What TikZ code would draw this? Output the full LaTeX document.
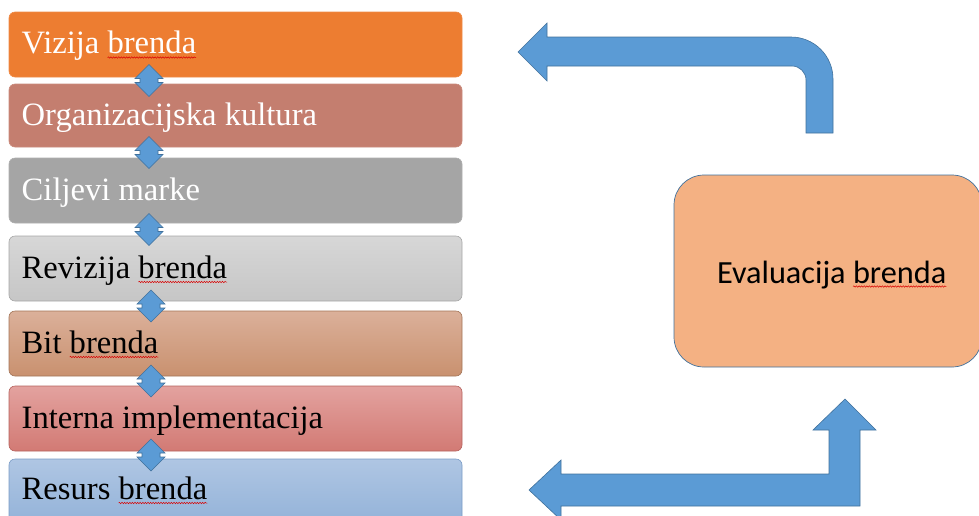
\documentclass[tikz,border=0pt]{standalone}
\usepackage{fontspec}
\setmainfont{Liberation Serif}
\newfontfamily\calfont{Carlito}
\usetikzlibrary{calc,decorations.pathmorphing}
\definecolor{cOne}{HTML}{ED7D31}
\definecolor{cTwo}{HTML}{C47E6F}
\definecolor{cThree}{HTML}{A5A5A5}
\definecolor{cFourT}{HTML}{D7D7D7}
\definecolor{cFourB}{HTML}{C6C6C6}
\definecolor{cFourL}{HTML}{A6A6A6}
\definecolor{cFiveT}{HTML}{DBB09A}
\definecolor{cFiveB}{HTML}{C9916F}
\definecolor{cFiveL}{HTML}{A37558}
\definecolor{cSixT}{HTML}{E3A29F}
\definecolor{cSixB}{HTML}{D27A74}
\definecolor{cSixL}{HTML}{B5625D}
\definecolor{cSevT}{HTML}{AFC6E3}
\definecolor{cSevB}{HTML}{94B3D9}
\definecolor{cSevL}{HTML}{7A9CC6}
\definecolor{arrFill}{HTML}{5B9BD5}
\definecolor{arrLine}{HTML}{41719C}
\definecolor{evFill}{HTML}{F4B183}
\begin{document}
\begin{tikzpicture}[x=1pt,y=-1pt,
  box/.style={rectangle, rounded corners=6pt, minimum width=453pt, inner sep=0pt, line width=0.6pt},
  lbl/.style={inner sep=0pt, outer sep=0pt, font=\fontsize{32.6}{36}\selectfont},
  evlbl/.style={inner sep=0pt, outer sep=0pt, font=\calfont\fontsize{32.3}{36}\selectfont},
  squig/.style={draw=red!85!black, line width=0.5pt, decorate, decoration={snake, amplitude=0.7pt, segment length=2.6pt}},
  blk/.style={fill=arrFill, draw=arrLine, line width=0.6pt, line join=miter}]
\useasboundingbox (0,0) rectangle (979,515);
\clip (0,0) rectangle (979,515);
% left boxes
\node[box, fill=cOne, draw=cOne!90!white, minimum height=65pt] (b1) at (235.5,44.5) {};
\node[box, fill=cTwo, draw=cTwo!90!white, minimum height=63pt] (b2) at (235.5,115.5) {};
\node[box, fill=cThree, draw=cThree!90!white, minimum height=65pt] (b3) at (235.5,190.5) {};
\node[box, top color=cFourT, bottom color=cFourB, draw=cFourL, minimum height=65pt] (b4) at (235.5,268.5) {};
\node[box, top color=cFiveT, bottom color=cFiveB, draw=cFiveL, minimum height=65pt] (b5) at (235.5,343.5) {};
\node[box, top color=cSixT, bottom color=cSixB, draw=cSixL, minimum height=65pt] (b6) at (235.5,418.5) {};
\node[box, top color=cSevT, bottom color=cSevB, draw=cSevL, minimum height=63pt] (b7) at (235.5,490.5) {};
% labels
\node[lbl, text=white, anchor=base west] (t1a) at ($(b1.west)+(13,9)$) {Vizija\kern.25em};
\node[lbl, text=white, anchor=base west] (t1b) at (t1a.base east) {brenda};
\node[lbl, text=white, anchor=base west] (t2) at ($(b2.west)+(13,9.5)$) {Organizacijska kultura};
\node[lbl, text=white, anchor=base west] (t3) at ($(b3.west)+(13,9.5)$) {Ciljevi marke};
\node[lbl, anchor=base west] (t4a) at ($(b4.west)+(13,9.5)$) {Revizija\kern.25em};
\node[lbl, anchor=base west] (t4b) at (t4a.base east) {brenda};
\node[lbl, anchor=base west] (t5a) at ($(b5.west)+(13,9.5)$) {Bit\kern.25em};
\node[lbl, anchor=base west] (t5b) at (t5a.base east) {brenda};
\node[lbl, anchor=base west] (t6) at ($(b6.west)+(13,9.5)$) {Interna implementacija};
\node[lbl, anchor=base west] (t7a) at ($(b7.west)+(13,8.5)$) {Resurs\kern.25em};
\node[lbl, anchor=base west] (t7b) at (t7a.base east) {brenda};
\foreach \w in {t1b,t4b,t5b,t7b}
  \draw[squig] ($(\w.base west)+(0,4)$) -- ($(\w.base east)+(0,4)$);
% double arrows between boxes
\foreach \a/\b/\cx in {b1/b2/149,b2/b3/149,b3/b4/149,b4/b5/151,b5/b6/151,b6/b7/151}{
  \path let \p1=($(\a.south)!0.5!(\b.north)$) in coordinate (m) at (\cx,\y1);
  \draw[blk] ($(m)+(0,-16)$) -- ++(14,14) -- ++(-5,0) -- ++(0,4) -- ++(5,0)
    -- ++(-14,14) -- ++(-14,-14) -- ++(5,0) -- ++(0,-4) -- ++(-5,0) -- cycle;
}
% evaluation box
\node[rectangle, rounded corners=30pt, minimum width=308pt, minimum height=192pt,
  fill=evFill, draw=arrLine, line width=0.7pt] (ev) at (828,271) {};
\node[evlbl, anchor=base west] (eva) at (717,283) {Evaluacija\kern.226em};
\node[evlbl, anchor=base west] (evb) at (eva.base east) {brenda};
\draw[squig] ($(evb.base west)+(0,3.5)$) -- ($(evb.base east)+(0,3.5)$);
% top bent arrow (from evaluation back to vision)
\coordinate (topTip) at (518,52);
\draw[blk] (topTip) -- (547,23) -- (547,37) -- (791,37)
  .. controls (814.2,37) and (833,55.8) .. (833,79) -- (833,133) -- (806,133) -- (806,80)
  .. controls (806,72.3) and (799.7,66) .. (792,66) -- (547,66) -- (547,81) -- cycle;
% bottom bent arrow (from resources to evaluation)
\coordinate (botTip) at (845,399);
\draw[blk] (529,490) -- (561,460) -- (561,474) -- (829,474) -- (829,430) -- (813,430)
  -- (botTip) -- (876,430) -- (860,430) -- (860,506) -- (561,506) -- (561,520) -- cycle;
\end{tikzpicture}
\end{document}
